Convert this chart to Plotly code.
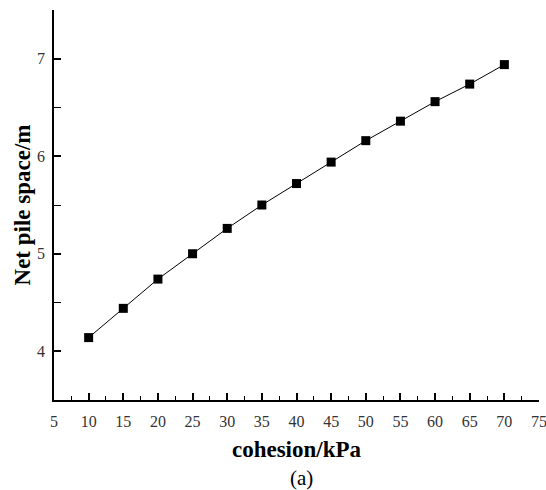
import plotly.graph_objects as go

cohesion = [10, 15, 20, 25, 30, 35, 40, 45, 50, 55, 60, 65, 70]
net_pile_space = [4.14, 4.44, 4.74, 5.00, 5.26, 5.50, 5.72, 5.94, 6.16, 6.36, 6.56, 6.74, 6.94]
x_ticks = [5, 10, 15, 20, 25, 30, 35, 40, 45, 50, 55, 60, 65, 70, 75]
y_ticks = [4, 5, 6, 7]

serif = "Liberation Serif, Times New Roman, serif"

fig = go.Figure()
fig.add_trace(go.Scatter(
    x=cohesion, y=net_pile_space, mode="lines+markers",
    line=dict(color="black", width=1),
    marker=dict(symbol="square", size=9, color="black"),
    showlegend=False,
))

fig.update_layout(
    width=546, height=490,
    margin=dict(l=54, r=7, t=10, b=90, autoexpand=False),
    plot_bgcolor="white", paper_bgcolor="white",
    xaxis=dict(
        range=[5, 75], tickvals=x_ticks, ticktext=[str(v) for v in x_ticks],
        automargin=False,
        showgrid=False, zeroline=False, showline=True, linecolor="black", linewidth=1.5,
        ticks="inside", ticklen=7, tickwidth=1.5, tickcolor="black",
        minor=dict(ticks="inside", ticklen=4, tickwidth=1, tickcolor="black", dtick=2.5, tick0=5),
        tickfont=dict(family=serif, size=16, color="#333"),
        ticklabelstandoff=6, ticklabeloverflow="allow",
        title=dict(text="<b>cohesion/kPa</b>", font=dict(family=serif, size=23, color="black"), standoff=12),
    ),
    yaxis=dict(
        range=[3.5, 7.5], tickvals=y_ticks,
        automargin=False,
        showgrid=False, zeroline=False, showline=True, linecolor="black", linewidth=1.5,
        ticks="inside", ticklen=7, tickwidth=1.5, tickcolor="black",
        minor=dict(ticks="inside", ticklen=7, tickwidth=1, tickcolor="black", dtick=0.5, tick0=3.5),
        tickfont=dict(family=serif, size=16, color="#333"),
        ticklabelstandoff=4,
        title=dict(text="<b>Net pile space/m</b>", font=dict(family=serif, size=23, color="black"), standoff=0),
    ),
    annotations=[dict(
        text="(a)", xref="paper", yref="paper", x=0.51, y=-0.2,
        showarrow=False, yanchor="middle", xanchor="center",
        font=dict(family=serif, size=21, color="black"),
    )],
)

fig.write_html("out.html")
